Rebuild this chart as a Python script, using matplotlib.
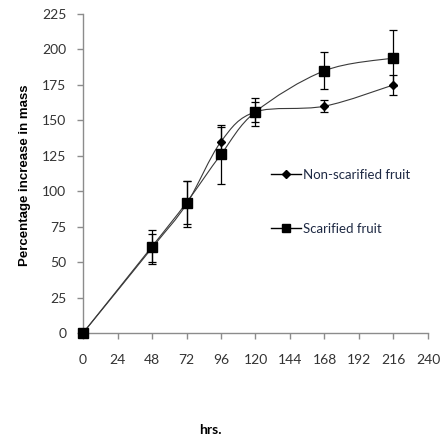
import numpy as np
import matplotlib.pyplot as plt
from matplotlib.path import Path
from matplotlib.patches import PathPatch
from matplotlib.lines import Line2D

# ------------------- data -------------------
hours = [0, 48, 72, 96, 120, 168, 216]
non_scarified = [0, 60, 91, 135, 156, 160, 175]
non_scarified_err = [0, 10, 16, 10, 7, 4, 7]
scarified = [0, 61, 92, 126, 156, 185, 194]
scarified_err = [0, 12, 15, 21, 10, 13, 20]

x_ticks = list(range(0, 241, 24))
y_ticks = list(range(0, 226, 25))


def smooth_path(x, y):
    # Excel style smoothed line: cubic bezier with catmull-rom control points
    p = np.column_stack([x, y]).astype(float)
    n = len(p)
    verts = [p[0]]
    codes = [Path.MOVETO]
    for i in range(n - 1):
        p0 = p[i - 1] if i > 0 else p[i]
        p3 = p[i + 2] if i + 2 < n else p[i + 1]
        c1 = p[i] + (p[i + 1] - p0) / 6.0
        c2 = p[i + 1] - (p3 - p[i]) / 6.0
        verts += [c1, c2, p[i + 1]]
        codes += [Path.CURVE4] * 3
    return Path(verts, codes)


fig = plt.figure(figsize=(4.42, 4.38), dpi=100)
ax = fig.add_axes([0.1878, 0.2397, 0.7805, 0.7283])

line_col = '#3a3a3a'
for ys in (non_scarified, scarified):
    ax.add_patch(PathPatch(smooth_path(hours, ys), facecolor='none',
                           edgecolor=line_col, lw=0.8, zorder=2))

ax.errorbar(hours, non_scarified, yerr=non_scarified_err, fmt='none',
            ecolor='black', elinewidth=0.9, capsize=3, capthick=0.9, zorder=3)
ax.errorbar(hours, scarified, yerr=scarified_err, fmt='none',
            ecolor='black', elinewidth=0.9, capsize=3, capthick=0.9, zorder=3)
ax.plot(hours, non_scarified, ls='none', marker='D', ms=4.5, color='black', zorder=4)
ax.plot(hours, scarified, ls='none', marker='s', ms=6.5, color='black', zorder=5,
        clip_on=False)

ax.set_xlim(0, 240)
ax.set_ylim(0, 225)
ax.set_xticks(x_ticks)
ax.set_yticks(y_ticks)
for s in ('top', 'right'):
    ax.spines[s].set_visible(False)
for s in ('left', 'bottom'):
    ax.spines[s].set_color('#8c8c8c')
    ax.spines[s].set_linewidth(1.0)
ax.tick_params(axis='both', colors='#8c8c8c', length=4, width=1.0,
               labelcolor='#333333', labelsize=10)
ax.tick_params(axis='x', pad=11)
ax.tick_params(axis='y', pad=8)
for lab in ax.get_xticklabels() + ax.get_yticklabels():
    lab.set_family('Lato')

fig.text(0.057, 0.6, 'Percentage increase in mass', rotation=90,
         ha='center', va='center', fontsize=9.5, fontweight='bold',
         family='Liberation Sans')
fig.text(0.475, 0.018, 'hrs.', ha='center', va='center', fontsize=10,
         fontweight='bold', family='Lato')

handles = [
    Line2D([], [], color='black', lw=1.0, marker='D', ms=4),
    Line2D([], [], color='black', lw=1.0, marker='s', ms=5.5),
]
leg = ax.legend(handles, ['Non-scarified fruit', 'Scarified fruit'],
                loc='upper left', bbox_to_anchor=(0.545, 0.515), frameon=False,
                borderpad=0, borderaxespad=0, handlelength=2.3,
                handletextpad=0.15, labelspacing=3.2,
                prop={'family': 'Lato', 'size': 9.5})
for t in leg.get_texts():
    t.set_color('#1f2a44')

fig.savefig('out.png', dpi=100)
